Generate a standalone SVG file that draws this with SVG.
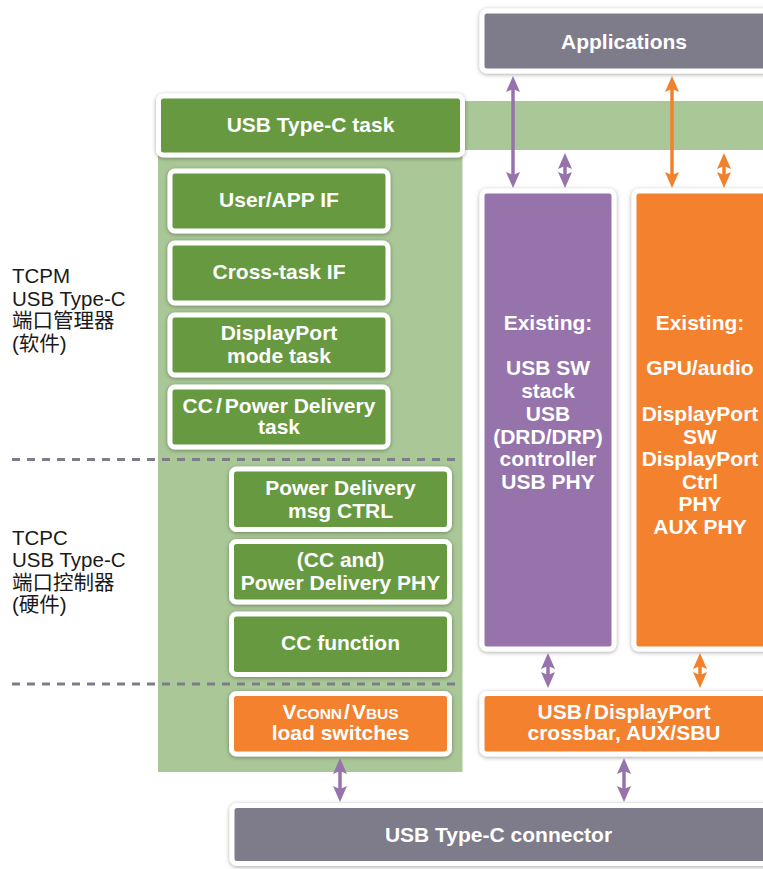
<svg xmlns="http://www.w3.org/2000/svg" width="763" height="869" viewBox="0 0 763 869">
<defs>
<style>
.box{stroke:#ffffff;stroke-width:5;filter:url(#sh)}
.g{fill:#66993f}.p{fill:#9673ab}.o{fill:#f3812f}.k{fill:#7e7c8b}
.t{font-family:"Liberation Sans",Arial,sans-serif;font-weight:bold;font-size:21px;fill:#ffffff;text-anchor:middle}
.lbl{font-family:"Liberation Sans","Noto Sans CJK SC",sans-serif;font-size:20.5px;fill:#1a1a1a}
.sc{font-size:15.5px}
.dash{stroke:#7e7c8b;stroke-width:3;stroke-dasharray:8 7;fill:none}
.ap{stroke:#9673ab;stroke-width:3.5;fill:none;marker-start:url(#mp);marker-end:url(#mp)}
.ao{stroke:#f0822e;stroke-width:3.5;fill:none;marker-start:url(#mo);marker-end:url(#mo)}
</style>
<filter id="sh" x="-10%" y="-10%" width="120%" height="130%">
<feDropShadow dx="0" dy="1" stdDeviation="2" flood-color="#000000" flood-opacity="0.35"/>
</filter>
<marker id="mp" viewBox="0 0 16 14" refX="8" refY="7" markerWidth="16" markerHeight="14" markerUnits="userSpaceOnUse" orient="auto-start-reverse">
<path d="M0,0 L16,7 L0,14 L3,7 Z" fill="#9673ab"/>
</marker>
<marker id="mo" viewBox="0 0 16 14" refX="8" refY="7" markerWidth="16" markerHeight="14" markerUnits="userSpaceOnUse" orient="auto-start-reverse">
<path d="M0,0 L16,7 L0,14 L3,7 Z" fill="#f0822e"/>
</marker>
</defs>
<rect width="763" height="869" fill="#ffffff"/>

<g id="background">
<rect x="158" y="120" width="304.5" height="652" fill="#aac897"/>
<rect x="462" y="101" width="301" height="49" fill="#aac897"/>
<line class="dash" x1="12" y1="459.5" x2="462" y2="459.5"/>
<line class="dash" x1="12" y1="684" x2="462" y2="684"/>
</g>

<g id="label-tcpm">
<text class="lbl" x="12" y="283">TCPM</text>
<text class="lbl" x="12" y="305.5">USB Type-C</text>
<text class="lbl" x="12" y="328">端口管理器</text>
<text class="lbl" x="12" y="350.5">(软件)</text>
</g>
<g id="label-tcpc">
<text class="lbl" x="12" y="544.5">TCPC</text>
<text class="lbl" x="12" y="567">USB Type-C</text>
<text class="lbl" x="12" y="589.5">端口控制器</text>
<text class="lbl" x="12" y="612">(硬件)</text>
</g>

<g id="applications">
<rect class="box k" x="482" y="11" width="300" height="60" rx="5"/>
<text class="t" x="624" y="48.5">Applications</text>
</g>
<g id="typec-task">
<rect class="box g" x="158.5" y="96" width="304" height="59" rx="5"/>
<text class="t" x="310.5" y="132">USB Type-C task</text>
</g>
<g id="user-app-if">
<rect class="box g" x="170" y="171" width="218" height="60" rx="5"/>
<text class="t" x="279" y="207">User/APP IF</text>
</g>
<g id="cross-task-if">
<rect class="box g" x="170" y="243" width="218" height="60" rx="5"/>
<text class="t" x="279" y="279">Cross-task IF</text>
</g>
<g id="dp-mode-task">
<rect class="box g" x="170" y="315" width="218" height="60" rx="5"/>
<text class="t" x="279" y="340">DisplayPort</text>
<text class="t" x="279" y="362.5">mode task</text>
</g>
<g id="cc-pd-task">
<rect class="box g" x="170" y="387" width="218" height="60" rx="5"/>
<text class="t" x="279" y="412.5">CC<tspan dx="3">/</tspan><tspan dx="3">Power Delivery</tspan></text>
<text class="t" x="279" y="434">task</text>
</g>
<g id="pd-msg-ctrl">
<rect class="box g" x="231.5" y="469" width="218" height="60.5" rx="5"/>
<text class="t" x="340.5" y="495">Power Delivery</text>
<text class="t" x="340.5" y="517.5">msg CTRL</text>
</g>
<g id="pd-phy">
<rect class="box g" x="231.5" y="541.5" width="218" height="60.5" rx="5"/>
<text class="t" x="340.5" y="567">(CC and)</text>
<text class="t" x="340.5" y="590">Power Delivery PHY</text>
</g>
<g id="cc-function">
<rect class="box g" x="231.5" y="614" width="218" height="60.5" rx="5"/>
<text class="t" x="340.5" y="650">CC function</text>
</g>
<g id="load-switches">
<rect class="box o" x="231.5" y="693.5" width="218" height="60.5" rx="5"/>
<text class="t" x="340.5" y="718.5">V<tspan class="sc">CONN</tspan><tspan dx="2">/</tspan><tspan dx="2">V</tspan><tspan class="sc">BUS</tspan></text>
<text class="t" x="340.5" y="740">load switches</text>
</g>
<g id="usb-stack">
<rect class="box p" x="482" y="191" width="132" height="458" rx="5"/>
<text class="t" x="548" y="329.5">Existing:</text>
<text class="t" x="548" y="374.5">USB SW</text>
<text class="t" x="548" y="397.5">stack</text>
<text class="t" x="548" y="420.5">USB</text>
<text class="t" x="548" y="443.5">(DRD/DRP)</text>
<text class="t" x="548" y="466">controller</text>
<text class="t" x="548" y="488.5">USB PHY</text>
</g>
<g id="dp-stack">
<rect class="box o" x="634" y="191" width="140" height="458" rx="5"/>
<text class="t" x="700" y="329.5">Existing:</text>
<text class="t" x="700" y="374.5">GPU/audio</text>
<text class="t" x="700" y="420.5">DisplayPort</text>
<text class="t" x="700" y="443.5">SW</text>
<text class="t" x="700" y="466">DisplayPort</text>
<text class="t" x="700" y="488.5">Ctrl</text>
<text class="t" x="700" y="511">PHY</text>
<text class="t" x="700" y="534">AUX PHY</text>
</g>
<g id="crossbar">
<rect class="box o" x="482" y="693.5" width="300" height="60.5" rx="5"/>
<text class="t" x="624" y="718.5">USB<tspan dx="3">/</tspan><tspan dx="3">DisplayPort</tspan></text>
<text class="t" x="624" y="740">crossbar, AUX/SBU</text>
</g>
<g id="connector">
<rect class="box k" x="232" y="805.5" width="560" height="58" rx="5"/>
<text class="t" x="498.5" y="842">USB Type-C connector</text>
</g>

<g id="connectors">
<line class="ap" x1="513" y1="84" x2="513" y2="180"/>
<line class="ap" x1="565" y1="161" x2="565" y2="180"/>
<line class="ao" x1="672" y1="84" x2="672" y2="180"/>
<line class="ao" x1="724" y1="161" x2="724" y2="180"/>
<line class="ap" x1="548" y1="661" x2="548" y2="680"/>
<line class="ao" x1="700" y1="661" x2="700" y2="680"/>
<line class="ap" x1="340" y1="766" x2="340" y2="794"/>
<line class="ap" x1="624" y1="766" x2="624" y2="794"/>
</g>
</svg>
